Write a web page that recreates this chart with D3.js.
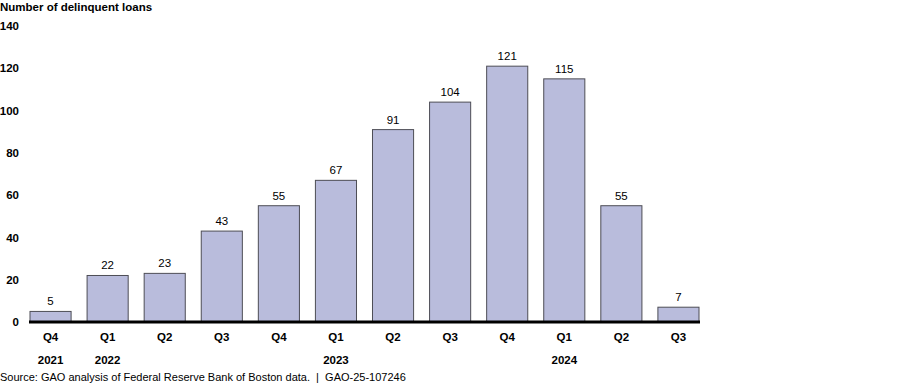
<!DOCTYPE html>
<html>
<head>
<meta charset="utf-8">
<script src="https://cdn.jsdelivr.net/npm/d3@7"></script>
<style>
  body { margin: 0; background: #fff; }
  text { font-family: "Liberation Sans", Arial, sans-serif; fill: #000; }
</style>
</head>
<body>
<div class="canvas"></div>
<script>
// data
const quarters = ['Q4', 'Q1', 'Q2', 'Q3', 'Q4', 'Q1', 'Q2', 'Q3', 'Q4', 'Q1', 'Q2', 'Q3'];
const years = ['2021', '2022', '', '', '', '2023', '', '', '', '2024', '', ''];
const loans = [5, 22, 23, 43, 55, 67, 91, 104, 121, 115, 55, 7];
const yTicks = [0, 20, 40, 60, 80, 100, 120, 140];

const svg = d3.select('.canvas')
	.append('svg')
	.attr('width', 900)
	.attr('height', 384);

const baseline = 322;

const x = d3.scaleBand()
	.domain(d3.range(loans.length))
	.range([30, 699])
	.paddingInner(0.28)
	.paddingOuter(0);

const y = d3.scaleLinear()
	.domain([0, 140])
	.range([baseline, 26]);

// title
svg.append('text')
	.attr('x', 0)
	.attr('y', 11)
	.attr('font-size', 11.5)
	.attr('font-weight', 'bold')
	.text('Number of delinquent loans');

// y axis labels (no line)
const yAxis = d3.axisLeft(y)
	.tickValues(yTicks)
	.tickSize(0)
	.tickPadding(0);

const yAxisGroup = svg.append('g')
	.attr('transform', 'translate(19, 0)')
	.call(yAxis);
yAxisGroup.select('.domain').remove();
yAxisGroup.selectAll('text')
	.attr('font-size', 11.5)
	.attr('font-weight', 'bold')
	.attr('font-family', '"Liberation Sans", Arial, sans-serif')
	.attr('fill', '#000');

// bars
svg.selectAll('rect.bar')
	.data(loans)
	.enter()
	.append('rect')
	.attr('class', 'bar')
	.attr('x', (d, i) => x(i))
	.attr('y', d => y(d))
	.attr('width', x.bandwidth())
	.attr('height', d => baseline - y(d))
	.attr('fill', '#b9bcdc')
	.attr('stroke', '#4d4d55')
	.attr('stroke-width', 1);

// value labels
svg.selectAll('text.val')
	.data(loans)
	.enter()
	.append('text')
	.attr('class', 'val')
	.attr('x', (d, i) => x(i) + x.bandwidth() / 2)
	.attr('y', d => y(d) - 6)
	.attr('text-anchor', 'middle')
	.attr('font-size', 11.5)
	.text(d => d);

// baseline
svg.append('line')
	.attr('x1', 29)
	.attr('x2', 700)
	.attr('y1', baseline)
	.attr('y2', baseline)
	.attr('stroke', '#000')
	.attr('stroke-width', 3);

// x axis: quarters and years
const xAxis = d3.axisBottom(x)
	.tickSize(0)
	.tickPadding(0)
	.tickFormat(i => quarters[i]);

const xAxisGroup = svg.append('g')
	.attr('transform', `translate(0, ${baseline + 11})`)
	.call(xAxis);
xAxisGroup.select('.domain').remove();
xAxisGroup.selectAll('text')
	.attr('font-size', 11.5)
	.attr('font-weight', 'bold')
	.attr('font-family', '"Liberation Sans", Arial, sans-serif')
	.attr('fill', '#000');

svg.selectAll('text.year')
	.data(years)
	.enter()
	.append('text')
	.attr('class', 'year')
	.attr('x', (d, i) => x(i) + x.bandwidth() / 2)
	.attr('y', 364)
	.attr('text-anchor', 'middle')
	.attr('font-size', 11.5)
	.attr('font-weight', 'bold')
	.text(d => d);

// source
svg.append('text')
	.attr('x', 0)
	.attr('y', 381)
	.attr('font-size', 11)
	.style('white-space', 'pre')
	.text('Source: GAO analysis of Federal Reserve Bank of Boston data.  |  GAO-25-107246');
</script>
</body>
</html>
